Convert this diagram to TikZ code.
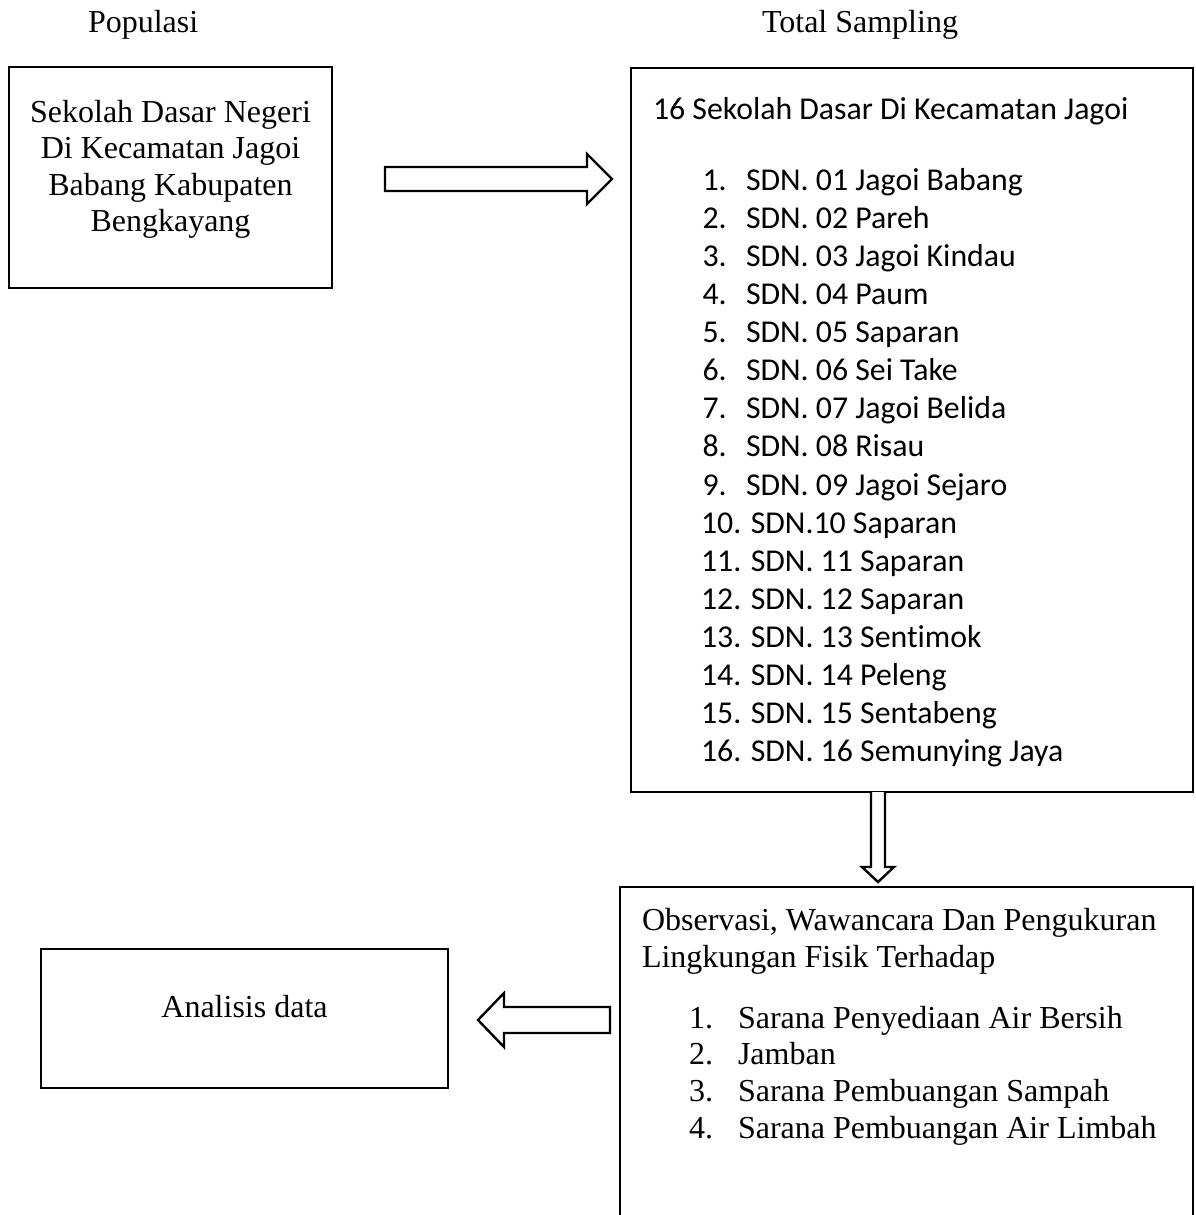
\documentclass[tikz,border=0pt]{standalone}
\usepackage{fontspec}
\setmainfont{Liberation Serif}
\newfontfamily\calfont[Ligatures=NoCommon]{Carlito}
\usetikzlibrary{calc}
\newcommand\tnrtxt{\fontsize{32pt}{38pt}\selectfont}
\newcommand\caltxt{\calfont\fontsize{31.8pt}{38pt}\selectfont}
\tikzset{
  box/.style={draw, line width=2.4pt, inner sep=0pt, outer sep=0pt, anchor=north west},
  tnr/.style={font=\tnrtxt, inner sep=0pt, outer sep=0pt},
  cal/.style={font=\caltxt, inner sep=0pt, outer sep=0pt},
  blk/.style={draw, line width=2.4pt, fill=white, line join=miter}
}
\begin{document}
\begin{tikzpicture}[x=1pt,y=-1pt]
\useasboundingbox (0,0) rectangle (1195,1215);
\clip (0,0) rectangle (1195,1215);
\fill[white] (0,0) rectangle (1195,1215);

% headings
\node[tnr, anchor=base west] (hpop) at (88,33) {Populasi};
\node[tnr, anchor=base west] (htot) at (762,33) {Total Sampling};

% box 1
\node[box, minimum width=323pt, minimum height=221pt] (pop) at (9,67) {};
\node[tnr, anchor=base] (p1) at (170.5,122.7) {Sekolah Dasar Negeri};
\node[tnr, anchor=base] (p2) at (170.5,158.9) {Di Kecamatan Jagoi};
\node[tnr, anchor=base] (p3) at (170.5,195.1) {Babang Kabupaten};
\node[tnr, anchor=base] (p4) at (170.5,231.3) {Bengkayang};

% box 2
\node[box, minimum width=562pt, minimum height=724pt] (samp) at (631,68) {};
\node[cal, anchor=base west] (sh) at (653,119) {16 Sekolah Dasar Di Kecamatan Jagoi};
\foreach \i/\t in {1/SDN. 01 Jagoi Babang, 2/SDN. 02 Pareh, 3/SDN. 03 Jagoi Kindau, 4/SDN. 04 Paum, 5/SDN. 05 Saparan, 6/SDN. 06 Sei Take, 7/SDN. 07 Jagoi Belida, 8/SDN. 08 Risau, 9/SDN. 09 Jagoi Sejaro} {
  \node[cal, anchor=base west] (sn\i) at (702.5,{190+(\i-1)*38.13}) {\i.};
  \node[cal, anchor=base west] (st\i) at (746,{190+(\i-1)*38.13}) {\t};
}
\foreach \i/\t in {10/SDN.10 Saparan, 11/SDN. 11 Saparan, 12/SDN. 12 Saparan, 13/SDN. 13 Sentimok, 14/SDN. 14 Peleng, 15/SDN. 15 Sentabeng, 16/SDN. 16 Semunying Jaya} {
  \node[cal, anchor=base west] (st\i) at (701,{190+(\i-1)*38.13}) {\i. \t};
}

% box 3
\node[box, minimum width=573pt, minimum height=360pt] (obs) at (620,887) {};
\node[tnr, anchor=base west] (oh1) at (642,930) {Observasi, Wawancara Dan Pengukuran};
\node[tnr, anchor=base west] (oh2) at (642,967) {Lingkungan Fisik Terhadap};
\foreach \i/\t in {1/Sarana Penyediaan Air Bersih, 2/Jamban, 3/Sarana Pembuangan Sampah, 4/Sarana Pembuangan Air Limbah} {
  \node[tnr, anchor=base west] (on\i) at (689,{1028+(\i-1)*36.7}) {\i.};
  \node[tnr, anchor=base west] (ot\i) at (738,{1028+(\i-1)*36.7}) {\t};
}

% box 4
\node[box, minimum width=407pt, minimum height=139pt] (ana) at (41,949) {};
\node[tnr, anchor=base] (at) at (244.5,1017) {Analisis data};

% block arrows
\coordinate (ra1) at (385,179);
\coordinate (ra2) at (612,179);
\draw[blk] ($(ra1)+(0,-12)$) -- ($(ra2)+(-25,-12)$) -- ($(ra2)+(-25,-25)$) -- (ra2)
  -- ($(ra2)+(-25,25)$) -- ($(ra2)+(-25,12)$) -- ($(ra1)+(0,12)$) -- cycle;

\coordinate (da1) at (samp.south -| 878,0);
\coordinate (da2) at (878,882);
\draw[blk] ($(da1)+(-7,0)$) -- ($(da2)+(-7,-15)$) -- ($(da2)+(-16,-15)$) -- (da2)
  -- ($(da2)+(16,-15)$) -- ($(da2)+(7,-15)$) -- ($(da1)+(7,0)$);

\coordinate (la1) at (610,1020);
\coordinate (la2) at (478,1020);
\draw[blk] ($(la1)+(0,-13)$) -- ($(la2)+(26,-13)$) -- ($(la2)+(26,-27)$) -- (la2)
  -- ($(la2)+(26,27)$) -- ($(la2)+(26,13)$) -- ($(la1)+(0,13)$) -- cycle;
\end{tikzpicture}
\end{document}
